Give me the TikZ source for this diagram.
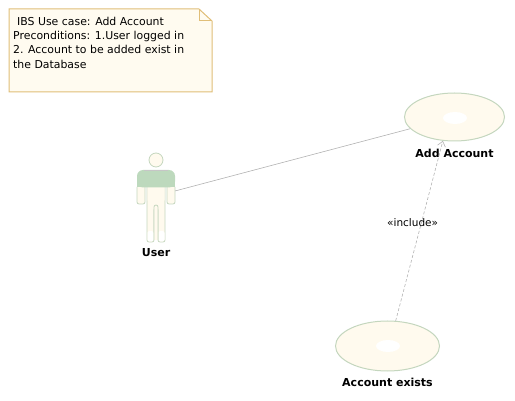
\documentclass[tikz,border=0pt]{standalone}
\usepackage{fontspec}
\setmainfont{DejaVu Sans}
\usetikzlibrary{positioning,shapes.geometric,arrows.meta}

\definecolor{notefill}{HTML}{FFFBF0}
\definecolor{noteline}{HTML}{E0BE78}
\definecolor{usefill}{HTML}{FFFAEE}
\definecolor{useline}{HTML}{C4D6BE}
\definecolor{torso}{HTML}{BDD9BD}

\tikzset{
	usecase/.style={ellipse, draw=useline, fill=usefill, line width=1pt, inner sep=0pt},
	usespot/.style={ellipse, fill=white, inner sep=0pt, minimum width=24, minimum height=12},
	caption/.style={font=\fontsize{11}{12}\selectfont\bfseries, inner sep=0pt},
	limb/.style={fill=usefill, draw=useline, line width=0.8pt, rounded corners=2pt},
	link/.style={color=gray!60, line width=0.6pt},
}

\begin{document}
\begin{tikzpicture}[x=1pt, y=-1pt]
\useasboundingbox (0,0) rectangle (515,401);

% note
\draw[fill=notefill, draw=noteline, line width=1pt] (9,9)--(199,9)--(212,21)--(212,92)--(9,92)--cycle;
\draw[draw=noteline, line width=1pt] (199,9)--(199,21)--(212,21);
\node[anchor=north west, align=left, inner sep=0pt, font=\fontsize{10.9}{14.2}\selectfont] (notetext) at (13,17)
	{\hspace{4pt}IBS Use case: Add Account\\Preconditions: 1.User logged in\\2. Account to be added exist in\\the Database};

% actor
\draw[limb] (156,160) circle (7);
\foreach \legx in {147,158}{
	\draw[limb] (\legx,187)--(\legx,242)--(\legx+7,242)--(\legx+7,187);
	\fill[white, rounded corners=2pt] (\legx+0.5,231)--(\legx+0.5,241.5)--(\legx+6.5,241.5)--(\legx+6.5,231)--cycle;
}
\fill[usefill] (147.5,187)--(147.5,200)--(154,210)--(158,210)--(164.5,200)--(164.5,187)--cycle;
\draw[limb] (154,240)--(154,205)--(158,205)--(158,240);
\foreach \armx in {137,167}{
	\draw[limb] (\armx,187)--(\armx,204)--(\armx+8,204)--(\armx+8,187);
}
\fill[torso, rounded corners=6pt] (137,187.5)--(137,170)--(175,170)--(175,187.5)--cycle;
\fill[torso] (137,180)rectangle(175,187.5);
\draw[color=gray!45, line width=0.8pt] (144,170)--(168,170);
\node[minimum width=38, minimum height=88, inner sep=0pt] (user) at (156,196) {};
\node[caption] (userlabel) at (156,253) {User};

% use cases
\node[usecase, minimum width=100, minimum height=48] (addaccount) at (454.5,117) {};
\node[usespot] (addspot) at (455,118) {};
\node[caption, below=7pt of addaccount] (addlabel) {Add Account};
\node[usecase, minimum width=104, minimum height=50] (accountexists) at (387.5,346) {};
\node[usespot] (existspot) at (388,346) {};
\node[caption, below=6pt of accountexists] (existlabel) {Account exists};

\draw[link] (user)--(addaccount);
\draw[link, dash pattern=on 3pt off 2pt, -{Straight Barb[length=5pt, width=8pt, line width=0.6pt]}] (accountexists.72.6)--(addaccount.244)
	node[pos=0.55, color=black, font=\fontsize{10.5}{12}\selectfont, inner sep=0pt, xshift=-9pt, yshift=-1pt] (includelabel) {«include»};

\end{tikzpicture}
\end{document}
